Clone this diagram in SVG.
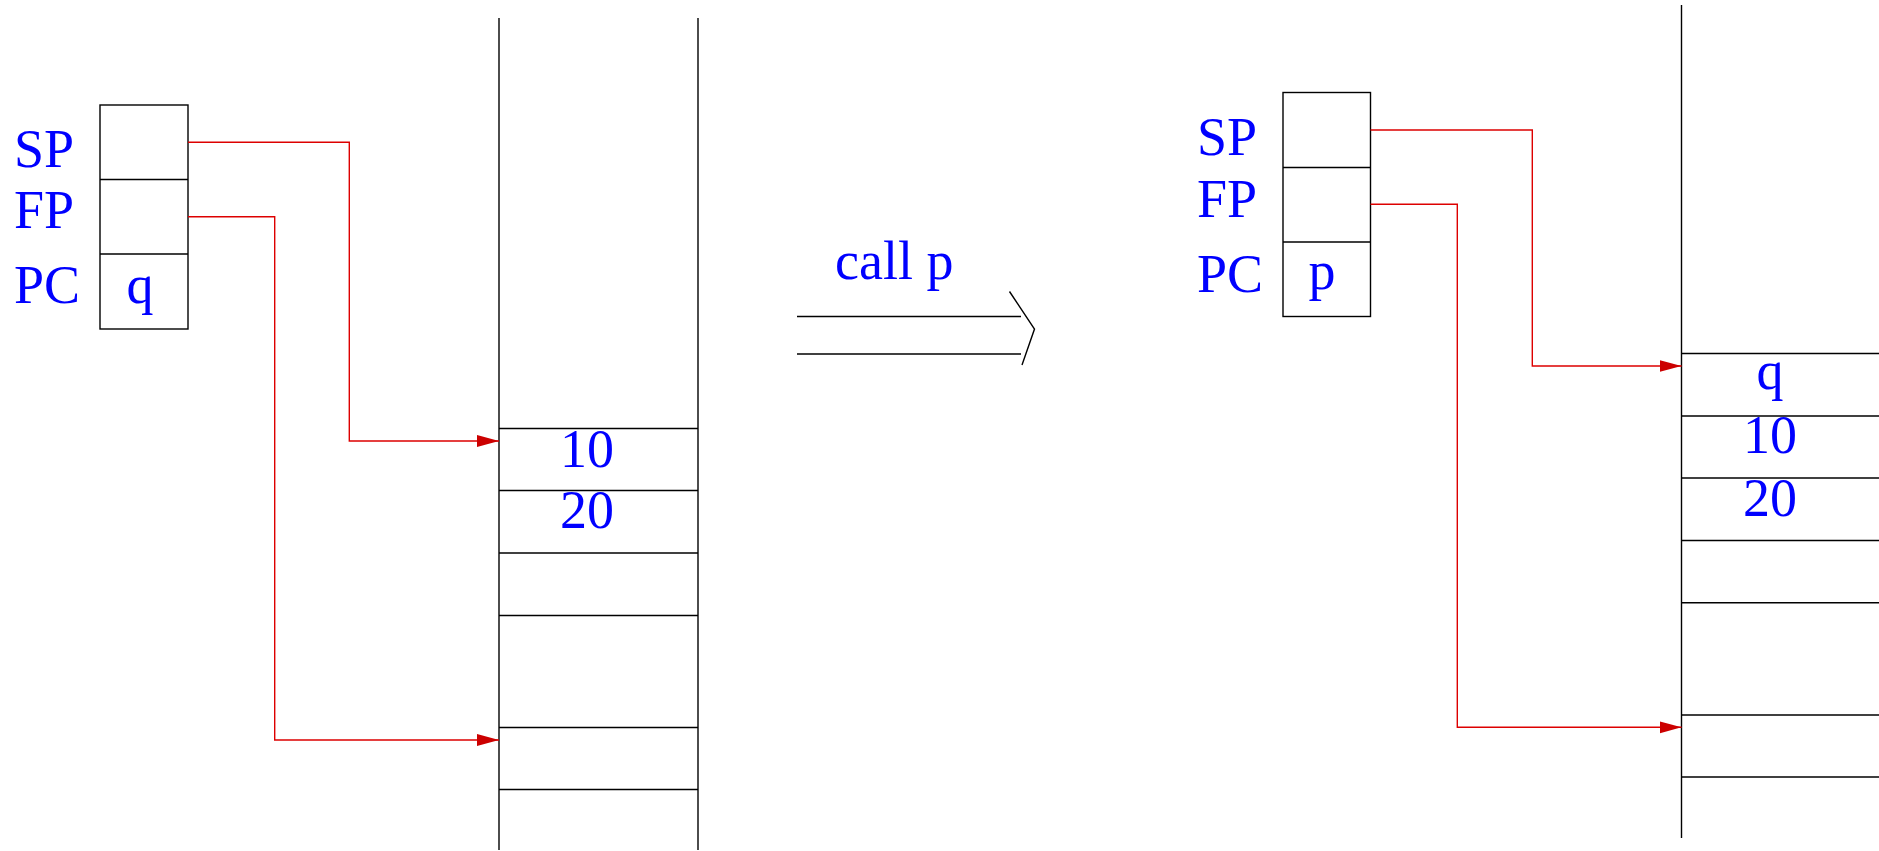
<svg xmlns="http://www.w3.org/2000/svg" width="1879" height="851" viewBox="0 0 1879 851">
<style>
.ln{stroke:#000;stroke-width:1.4;fill:none}
.rd{stroke:#dd0000;stroke-width:1.4;fill:none;marker-end:url(#ah)}
.t{font-family:"Liberation Serif","Times New Roman",serif;font-size:54px;fill:#0000ff}
.m{text-anchor:middle}
</style>
<defs>
<marker id="ah" markerUnits="userSpaceOnUse" markerWidth="23" markerHeight="13" viewBox="0 0 23 13" refX="22" refY="6.5" orient="auto">
<path d="M0,0.5 L22,6.5 L0,12.5 Z" fill="#cc0000"/>
</marker>
</defs>
<rect width="1879" height="851" fill="#fff"/>

<g id="regs-left">
<rect class="ln" x="100" y="105" width="88" height="224"/>
<line class="ln" x1="100" y1="179.5" x2="188" y2="179.5"/>
<line class="ln" x1="100" y1="254" x2="188" y2="254"/>
<text class="t" x="14" y="167">SP</text>
<text class="t" x="14" y="228">FP</text>
<text class="t" x="14" y="303">PC</text>
<text class="t m" x="140" y="303">q</text>
</g>

<g id="stack-left">
<line class="ln" x1="499" y1="18" x2="499" y2="850"/>
<line class="ln" x1="698" y1="18" x2="698" y2="850"/>
<line class="ln" x1="499" y1="428.5" x2="698" y2="428.5"/>
<line class="ln" x1="499" y1="490.5" x2="698" y2="490.5"/>
<line class="ln" x1="499" y1="553" x2="698" y2="553"/>
<line class="ln" x1="499" y1="615.5" x2="698" y2="615.5"/>
<line class="ln" x1="499" y1="727.5" x2="698" y2="727.5"/>
<line class="ln" x1="499" y1="789.5" x2="698" y2="789.5"/>
<text class="t m" x="587" y="467">10</text>
<text class="t m" x="587" y="528">20</text>
</g>

<g id="call-arrow">
<line class="ln" x1="797" y1="316.5" x2="1021" y2="316.5"/>
<line class="ln" x1="797" y1="354" x2="1021" y2="354"/>
<polyline class="ln" points="1009.5,291.5 1034.5,329 1022,365"/>
<text class="t" x="835" y="279">call p</text>
</g>

<g id="regs-right">
<rect class="ln" x="1283" y="92.5" width="87.5" height="224"/>
<line class="ln" x1="1283" y1="167.5" x2="1370.5" y2="167.5"/>
<line class="ln" x1="1283" y1="242" x2="1370.5" y2="242"/>
<text class="t" x="1197" y="155">SP</text>
<text class="t" x="1197" y="217">FP</text>
<text class="t" x="1197" y="292">PC</text>
<text class="t m" x="1322" y="289">p</text>
</g>

<g id="stack-right">
<line class="ln" x1="1681.5" y1="5" x2="1681.5" y2="838"/>
<line class="ln" x1="1681.5" y1="353.5" x2="1879" y2="353.5"/>
<line class="ln" x1="1681.5" y1="416" x2="1879" y2="416"/>
<line class="ln" x1="1681.5" y1="478" x2="1879" y2="478"/>
<line class="ln" x1="1681.5" y1="540.5" x2="1879" y2="540.5"/>
<line class="ln" x1="1681.5" y1="602.7" x2="1879" y2="602.7"/>
<line class="ln" x1="1681.5" y1="715" x2="1879" y2="715"/>
<line class="ln" x1="1681.5" y1="777" x2="1879" y2="777"/>
<text class="t m" x="1770" y="389">q</text>
<text class="t m" x="1770" y="453">10</text>
<text class="t m" x="1770" y="516">20</text>
</g>

<g id="connectors">
<path class="rd" d="M188,142.3 H349.3 V441 H499"/>
<path class="rd" d="M188,216.7 H274.7 V740 H499"/>
<path class="rd" d="M1370.5,130 H1532.3 V366 H1681.5"/>
<path class="rd" d="M1370.5,204.3 H1457.3 V727.3 H1681.5"/>
</g>
</svg>
